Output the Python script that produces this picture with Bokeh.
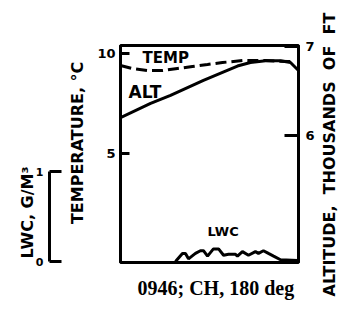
from bokeh.plotting import figure
from bokeh.layouts import row
from bokeh.models import Range1d, LinearAxis, FixedTicker, Title, Label
from bokeh.embed import file_html
from bokeh.resources import INLINE

# ---- data ----
temp_x = [0, 6.7, 15.2, 23.6, 32.0, 40.4, 48.9, 57.3, 69.1, 81.5, 93.8, 98.0]
temp_c = [9.4, 9.25, 9.15, 9.15, 9.25, 9.35, 9.45, 9.55, 9.65, 9.65, 9.6, 9.6]

alt_x = [0, 16.9, 28.1, 46.6, 65.7, 73.0, 81.5, 89.9, 95.5, 100]
alt_kft = [6.20, 6.36, 6.45, 6.62, 6.78, 6.82, 6.84, 6.84, 6.82, 6.73]

lwc_x = [30.9, 34.8, 36.5, 38.2, 42.1, 44.9, 46.6, 48.9, 52.2, 55.1, 57.9, 60.7,
         64.6, 65.7, 68.5, 71.9, 75.8, 77.5, 80.3, 83.1, 86.0, 89.9, 99.4]
lwc_g = [0, 0.09, 0.09, 0.03, 0.09, 0.12, 0.12, 0.06, 0.14, 0.14, 0.07, 0.08,
         0.08, 0.06, 0.11, 0.07, 0.11, 0.09, 0.12, 0.09, 0.06, 0.02, 0.01]

temp_ticks = [5, 10]
alt_ticks = [6, 7]
lwc_ticks = [0, 1]

NB = "\u00a0"
TITLE = "0946; CH, 180 deg"
TEMP_LABEL = NB * 4 + "TEMPERATURE, °C"
LWC_LABEL = "LWC, G/M³" + NB * 21
ALT_LABEL = "ALTITUDE," + NB + " THOUSANDS" + NB + " OF" + NB + " FT" + NB * 2
SANS = "DejaVu Sans"
SERIF = "Liberation Serif"

p = figure(frame_width=178, frame_height=217, output_backend="svg",
           toolbar_location=None, x_axis_location=None,
           x_range=Range1d(0, 100), y_range=Range1d(-0.45, 10.4),
           min_border_left=120, min_border_top=45, min_border_right=16,
           min_border_bottom=5)
p.background_fill_color = "white"
p.border_fill_color = "white"
p.outline_line_color = "black"
p.outline_line_width = 3
p.xgrid.visible = False
p.ygrid.visible = False

p.extra_y_ranges = {"alt": Range1d(4.573, 7.011), "lwc": Range1d(-0.011, 2.40)}

def style_axis(ax, size):
    ax.axis_line_width = 3
    ax.axis_line_color = "black"
    ax.major_tick_line_width = 3
    ax.major_tick_line_color = "black"
    ax.minor_tick_line_color = None
    ax.major_tick_out = 0
    ax.major_label_text_font = SANS
    ax.major_label_text_font_style = "bold"
    ax.major_label_text_font_size = size
    ax.major_label_text_color = "black"
    ax.axis_label_text_font = SANS
    ax.axis_label_text_font_style = "bold"
    ax.axis_label_text_font_size = "16px"
    ax.axis_label_text_color = "black"

# temperature axis (closest to frame on left)
ya = p.yaxis[0]
ya.ticker = FixedTicker(ticks=temp_ticks)
style_axis(ya, "13px")
ya.major_tick_in = 9
ya.major_label_standoff = 5
ya.axis_label = TEMP_LABEL
ya.axis_label_standoff = 7

# spacer axis (white tick, keeps the LWC scale bar away from the temperature axis)
sp = LinearAxis(ticker=FixedTicker(ticks=[0]), axis_line_color=None,
                major_tick_line_color="white", major_tick_line_width=1,
                minor_tick_line_color=None, major_tick_out=16, major_tick_in=0,
                major_label_standoff=0, major_label_text_color=None,
                major_label_text_font_size="1px")
p.add_layout(sp, "left")

# LWC scale bar
la = LinearAxis(y_range_name="lwc", ticker=FixedTicker(ticks=lwc_ticks), bounds=(0, 1))
style_axis(la, "11px")
la.major_tick_in = 12
la.major_label_standoff = 6
la.axis_label = LWC_LABEL
la.axis_label_standoff = -4
p.add_layout(la, "left")

# altitude axis
ra = LinearAxis(y_range_name="alt", ticker=FixedTicker(ticks=alt_ticks))
style_axis(ra, "13px")
ra.major_tick_in = 14
ra.major_label_standoff = 7
p.add_layout(ra, "right")

# curves
p.line(temp_x, temp_c, line_width=3, line_color="black", line_dash="11 5")
p.line(alt_x, alt_kft, y_range_name="alt", line_width=3, line_color="black")
p.line(lwc_x, lwc_g, y_range_name="lwc", line_width=3, line_color="black")

# in-plot labels
for x, y, t, rng, fs in [(12.4, 9.8, "TEMP", "default", "15px"),
                         (4.5, 8.1, "ALT", "default", "17px"),
                         (48.9, 0.333, "LWC", "lwc", "13px")]:
    p.add_layout(Label(x=x, y=y, text=t, y_range_name=rng, text_font=SANS,
                       text_font_style="bold", text_font_size=fs,
                       text_baseline="middle", text_color="black"))

t = Title(text=TITLE, align="left", offset=17, text_font=SERIF,
          text_font_style="bold", text_font_size="20px", standoff=24,
          text_color="black")
p.add_layout(t, "below")

# narrow strip on the right holding the altitude title, reading bottom to top
p2 = figure(width=35, height=300, output_backend="svg", toolbar_location=None,
            x_axis_location=None, y_axis_location=None,
            x_range=Range1d(0, 1), y_range=Range1d(0, 1),
            min_border_left=15, min_border_right=0, min_border_top=0,
            min_border_bottom=0)
p2.outline_line_color = None
p2.background_fill_color = "white"
p2.border_fill_color = "white"
p2.xgrid.visible = False
p2.ygrid.visible = False
p2.add_layout(Title(text=ALT_LABEL, align="center", standoff=0, text_font=SANS,
                    text_font_style="bold", text_font_size="16px",
                    text_color="black"), "left")

layout = row(p, p2, spacing=0)
open("out.html", "w").write(file_html(layout, INLINE))
